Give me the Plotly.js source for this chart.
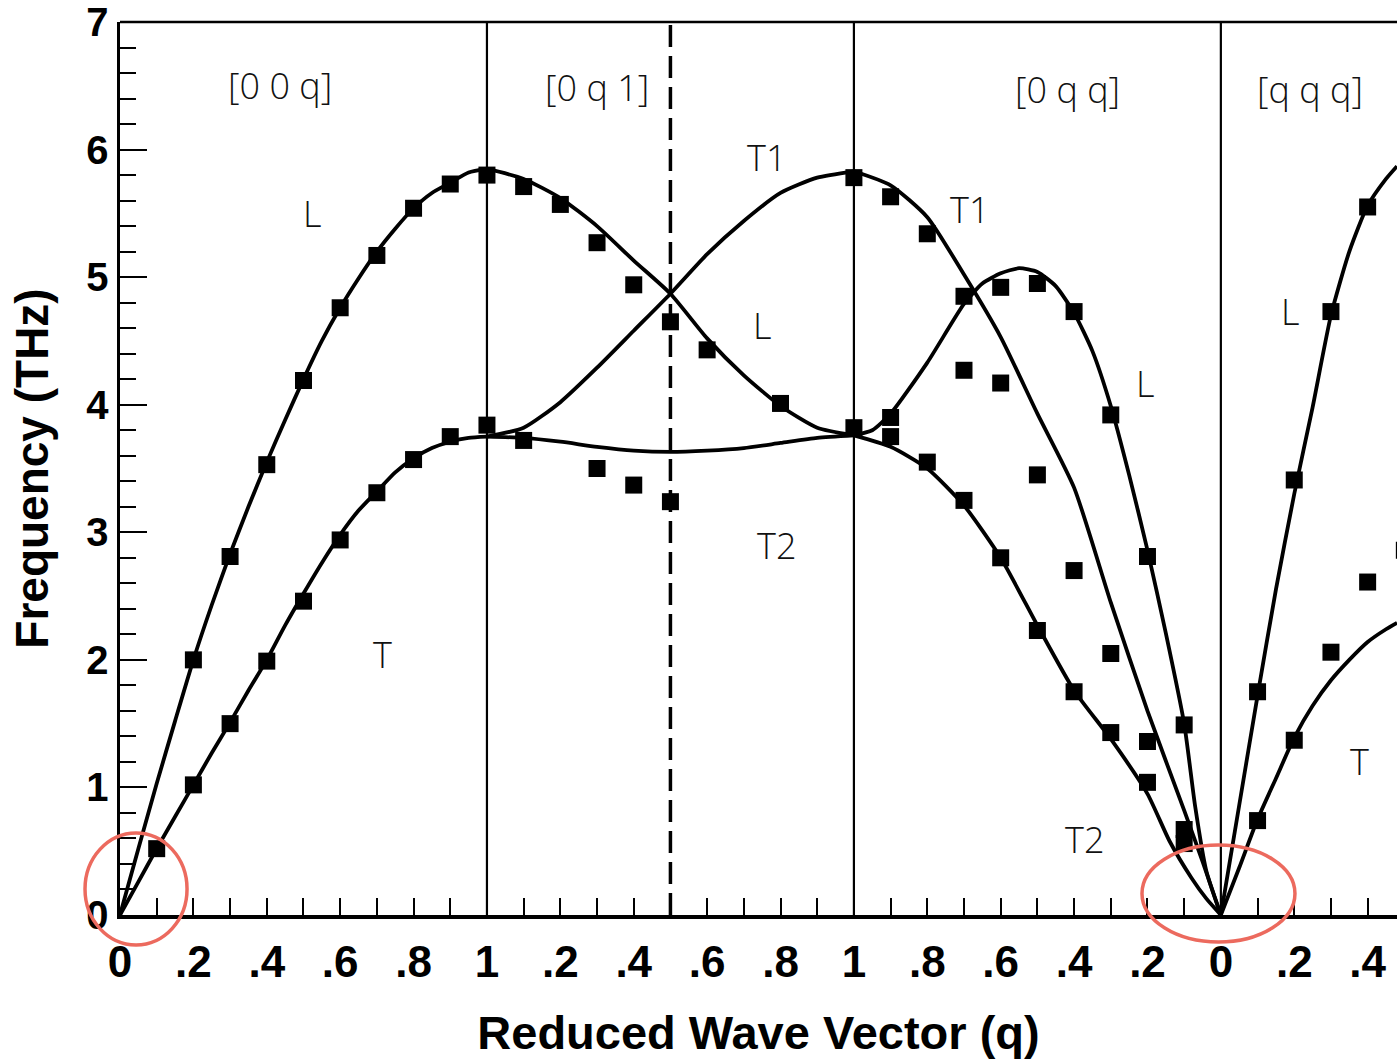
<!DOCTYPE html>
<html>
<head>
<meta charset="utf-8">
<script src="https://cdn.plot.ly/plotly-3.0.1.min.js"></script>
<style>html,body{margin:0;padding:0;background:#fff;}#chart{width:1397px;height:1061px;}</style>
</head>
<body>
<div id="chart"></div>
<script>
// ---- path coordinate: [00q] 0..1, [0q1] 1..2, [0qq] 2..3 (q from 1 to 0), [qqq] 3.. ----
// Tick positions and labels along the path
const tickPos = [0,0.1,0.2,0.3,0.4,0.5,0.6,0.7,0.8,0.9,1.0,1.1,1.2,1.3,1.4,1.5,1.6,1.7,1.8,1.9,2.0,2.1,2.2,2.3,2.4,2.5,2.6,2.7,2.8,2.9,3.0,3.1,3.2,3.3,3.4];
const tickLabels = ["0","",".2","",".4","",".6","",".8","","1","",".2","",".4","",".6","",".8","","1","",".8","",".6","",".4","",".2","","0","",".2","",".4"];
const boundaries = [1, 2, 3];
const zoneMid = [1.5];

// ---- calculated dispersion curves ----
// [0 0 q]
const k_00q = [0,0.05,0.1,0.15,0.2,0.25,0.3,0.35,0.4,0.45,0.5,0.55,0.6,0.65,0.7,0.75,0.8,0.85,0.9,0.95,1.0];
const L_00q = [0,0.52,1.03,1.52,2.0,2.43,2.83,3.2,3.55,3.88,4.2,4.5,4.76,4.99,5.2,5.38,5.54,5.66,5.74,5.82,5.85];
const T_00q = [0,0.26,0.52,0.77,1.02,1.27,1.51,1.76,2.0,2.27,2.52,2.76,2.98,3.17,3.32,3.47,3.58,3.66,3.71,3.74,3.75];
// [0 q 1]
const k_0q1 = [1.0,1.1,1.2,1.3,1.4,1.5,1.6,1.7,1.8,1.9,2.0];
const L_0q1 = [5.85,5.77,5.62,5.40,5.13,4.87,4.52,4.23,3.99,3.82,3.76];
const T1_0q1 = [3.75,3.82,4.02,4.29,4.58,4.87,5.18,5.44,5.66,5.78,5.83];
const T2_0q1 = [3.75,3.74,3.71,3.67,3.64,3.63,3.64,3.66,3.70,3.74,3.76];
// [0 q q]
const k_0qq_T1 = [2.0,2.1,2.2,2.3,2.4,2.5,2.6,2.7,2.8,2.9,2.95,3.0];
const T1_0qq = [5.83,5.72,5.47,5.02,4.53,3.93,3.35,2.45,1.60,0.82,0.42,0];
const k_0qq_L = [2.0,2.05,2.1,2.2,2.3,2.35,2.4,2.45,2.5,2.55,2.6,2.65,2.7,2.75,2.8,2.85,2.9,2.93,2.96,3.0];
const L_0qq = [3.76,3.80,3.93,4.33,4.79,4.95,5.03,5.07,5.04,4.93,4.72,4.42,3.99,3.45,2.86,2.21,1.50,0.85,0.35,0];
const k_0qq_T2 = [2.0,2.1,2.2,2.3,2.4,2.5,2.6,2.7,2.8,2.86,2.92,2.96,3.0];
const T2_0qq = [3.76,3.67,3.50,3.21,2.80,2.27,1.76,1.38,0.95,0.58,0.29,0.13,0];
// [q q q]
const k_qqq = [3.0,3.05,3.1,3.15,3.2,3.25,3.3,3.35,3.4,3.45,3.48];
const L_qqq = [0,0.86,1.72,2.55,3.30,3.98,4.70,5.20,5.56,5.77,5.87];
const T_qqq = [0,0.37,0.75,1.07,1.39,1.64,1.84,2.00,2.14,2.24,2.29];

// ---- measured points ----
const kExpL1 = [0.2,0.3,0.4,0.5,0.6,0.7,0.8,0.9,1.0];
const fExpL1 = [2.0,2.81,3.53,4.19,4.76,5.17,5.54,5.73,5.80];
const kExpT1 = [0.1,0.2,0.3,0.4,0.5,0.6,0.7,0.8,0.9,1.0];
const fExpT1 = [0.52,1.02,1.50,1.99,2.46,2.94,3.31,3.57,3.75,3.84];
const kExpU2 = [1.1,1.2,1.3,1.4,1.5,1.6,1.8];
const fExpU2 = [5.71,5.57,5.27,4.94,4.65,4.43,4.01];
const kExpD2 = [1.1,1.3,1.4,1.5];
const fExpD2 = [3.72,3.50,3.37,3.24];
const kExpT13 = [2.0,2.1,2.2,2.3];
const fExpT13 = [5.78,5.63,5.34,4.85];
const kExpL3 = [2.1,2.4,2.5,2.6,2.7,2.8,2.9];
const fExpL3 = [3.90,4.92,4.95,4.73,3.92,2.81,1.49];
const kExpM3 = [2.3,2.4,2.5,2.6,2.7,2.8,2.9];
const fExpM3 = [4.27,4.17,3.45,2.70,2.05,1.36,0.67];
const kExpT23 = [2.0,2.1,2.2,2.3,2.4,2.5,2.6,2.7,2.8,2.9];
const fExpT23 = [3.82,3.75,3.55,3.25,2.80,2.23,1.75,1.43,1.04,0.56];
const kExpL4 = [3.1,3.2,3.3,3.4];
const fExpL4 = [1.75,3.41,4.73,5.55];
const kExpT4 = [3.1,3.2,3.3,3.4,3.5];
const fExpT4 = [0.74,1.37,2.06,2.61,2.86];

// ---- branch labels ----
const labelText = ["[0 0 q]","[0 q 1]","[0 q q]","[q q q]","L","T","T1","L","T2","T1","L","T2","L","T"];
const labelK = [0.436,1.30,2.583,3.243,0.523,0.714,1.763,1.749,1.79,2.316,2.793,2.629,3.188,3.379];
const labelF = [6.50,6.49,6.47,6.47,5.50,2.04,5.94,4.62,2.90,5.53,4.17,0.59,4.73,1.20];

const lineStyle = {color:'#000', width:3.8, shape:'spline', smoothing:0.6};
const curves = [
  [k_00q, L_00q],[k_00q, T_00q],
  [k_0q1, L_0q1],[k_0q1, T1_0q1],[k_0q1, T2_0q1],
  [k_0qq_T1, T1_0qq],[k_0qq_L, L_0qq],[k_0qq_T2, T2_0qq],
  [k_qqq, L_qqq],[k_qqq, T_qqq]
];
const points = [
  [kExpL1,fExpL1],[kExpT1,fExpT1],[kExpU2,fExpU2],[kExpD2,fExpD2],
  [kExpT13,fExpT13],[kExpL3,fExpL3],[kExpM3,fExpM3],[kExpT23,fExpT23],
  [kExpL4,fExpL4],[kExpT4,fExpT4]
];
const traces = [];
curves.forEach(c => traces.push({x:c[0], y:c[1], mode:'lines', line:lineStyle, hoverinfo:'skip', showlegend:false}));
points.forEach(p => traces.push({x:p[0], y:p[1], mode:'markers', marker:{symbol:'square', size:17, color:'#000'}, showlegend:false}));

const shapes = [];
boundaries.forEach(b => shapes.push({type:'line', xref:'x', yref:'paper', x0:b, x1:b, y0:0, y1:1, line:{color:'#000', width:2.2}}));
zoneMid.forEach(b => shapes.push({type:'line', xref:'x', yref:'paper', x0:b, x1:b, y0:0, y1:1, line:{color:'#000', width:3.5, dash:'22px,9px'}}));
// top frame line
shapes.push({type:'line', xref:'paper', yref:'paper', x0:0, x1:1, y0:1, y1:1, line:{color:'#000', width:2.5}});
// red highlight ellipses
shapes.push({type:'circle', xref:'paper', yref:'paper', x0:-0.0274, x1:0.0525, y0:-0.0336, y1:0.0918, line:{color:'#ec6a5e', width:3.5}, layer:'above'});
shapes.push({type:'circle', xref:'paper', yref:'paper', x0:0.8003, x1:0.9201, y0:-0.0302, y1:0.0784, line:{color:'#ec6a5e', width:3.5}, layer:'above'});

const annotations = labelText.map((t,i) => ({
  x: labelK[i], y: labelF[i], xref:'x', yref:'y', text:t, showarrow:false,
  font:{family:'Open Sans, Noto Sans, sans-serif', size:36, color:'#111', weight:300}
}));

const layout = {
  width:1397, height:1061,
  margin:{l:120, r:0, t:22, b:146, pad:0},
  paper_bgcolor:'#fff', plot_bgcolor:'#fff',
  showlegend:false,
  xaxis:{
    range:[0, 3.48], tickmode:'array', tickvals:tickPos, ticktext:tickLabels,
    ticks:'inside', ticklen:17, tickwidth:2, tickcolor:'#000',
    showline:true, linewidth:3.5, linecolor:'#000', showgrid:false, zeroline:false,
    ticklabelstandoff:6,
    tickfont:{family:'Liberation Sans, Arial, sans-serif', size:44, color:'#000', weight:'bold'},
    title:{text:'Reduced Wave Vector (q)', standoff:32, font:{family:'Liberation Sans, Arial, sans-serif', size:47, color:'#000', weight:'bold'}}
  },
  yaxis:{
    range:[0, 7], tickmode:'linear', tick0:0, dtick:1,
    ticks:'inside', ticklen:27, tickwidth:2, tickcolor:'#000',
    minor:{dtick:0.2, ticks:'inside', ticklen:16, tickwidth:2, tickcolor:'#000', showgrid:false},
    showline:true, linewidth:3.5, linecolor:'#000', showgrid:false, zeroline:false,
    ticklabeloverflow:'allow',
    tickfont:{family:'Liberation Sans, Arial, sans-serif', size:40, color:'#000', weight:'bold'},
    title:{text:'Frequency (THz)', standoff:24, font:{family:'Liberation Sans, Arial, sans-serif', size:46, color:'#000', weight:'bold'}}
  },
  shapes:shapes,
  annotations:annotations
};

Plotly.newPlot('chart', traces, layout, {displayModeBar:false, staticPlot:true});
</script>
</body>
</html>
